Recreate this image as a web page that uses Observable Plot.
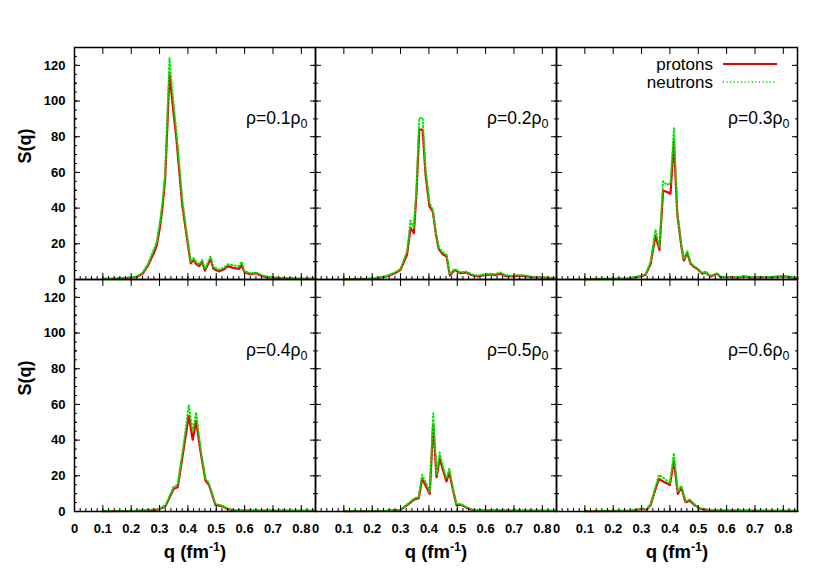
<!DOCTYPE html>
<html><head><meta charset="utf-8">
<script src="https://cdn.jsdelivr.net/npm/d3@7"></script>
<script src="https://cdn.jsdelivr.net/npm/@observablehq/plot@0.6"></script>
<style>body{margin:0;background:#fff}svg{display:block}</style>
</head><body><div id="chart"></div>
<script>
// ---- data ----
const densityLabels = ["ρ=0.1ρ0", "ρ=0.2ρ0", "ρ=0.3ρ0", "ρ=0.4ρ0", "ρ=0.5ρ0", "ρ=0.6ρ0"];
const seriesNames = ["protons", "neutrons"];
const xTicks = [0, 0.1, 0.2, 0.3, 0.4, 0.5, 0.6, 0.7, 0.8];
const yTicks = [0, 20, 40, 60, 80, 100, 120];
const xLabel = "q (fm-1)";
const yLabel = "S(q)";

const q1 = [0.10,0.15,0.20,0.22,0.24,0.26,0.28,0.29,0.30,0.31,0.32,0.335,0.345,0.36,0.38,0.395,0.41,0.42,0.43,0.44,0.45,0.46,0.48,0.49,0.51,0.53,0.54,0.56,0.58,0.59,0.60,0.62,0.64,0.66,0.68,0.72,0.78,0.85];
const p1 = [0.3,0.5,1.0,1.5,3.2,8,15,19,28,40,57,115,100,78,42,25,9,11,8.5,7.5,10,5,11.5,6,4.5,6,7.5,6.5,6,8,4,3,3.5,2,1.2,0.8,0.5,0.4];
const n1 = [0.3,0.6,1.2,1.8,3.8,9,17,21,31,43,60,124,106,82,45,27,10,12,9.5,8.5,11,6,13,7,5.5,7,8.5,8,7.5,10,4.5,3.5,4,2.5,1.5,1,0.6,0.5];

const q2 = [0.10,0.20,0.25,0.28,0.30,0.323,0.335,0.347,0.356,0.366,0.378,0.388,0.402,0.414,0.425,0.435,0.45,0.462,0.474,0.491,0.511,0.53,0.55,0.57,0.60,0.617,0.635,0.652,0.67,0.687,0.71,0.734,0.76,0.805,0.85];
const p2 = [0.2,0.3,1.7,3.5,5.4,14,29,26,48,84,84,59,41,38,25,17,14,13,2.2,5.4,3.5,4,2.5,1.7,2.5,2.8,2.5,3.2,2,1.7,2,2,1.3,1,0.6];
const n2 = [0.2,0.4,2,4,6,16,33,29,51,90.5,90.5,62,43,39,26,18,15,14,3,6,4,4.5,3,2.2,3,3.2,3,4,2.5,2,2.5,2.3,1.6,1.2,0.7];

const q3 = [0.10,0.25,0.296,0.314,0.332,0.349,0.363,0.376,0.39,0.402,0.414,0.426,0.44,0.449,0.461,0.473,0.485,0.496,0.514,0.526,0.543,0.567,0.579,0.614,0.64,0.661,0.69,0.708,0.75,0.802,0.85];
const p3 = [0.2,0.5,1.7,2.6,8.8,24.6,16.6,49.7,49,48,77.6,36.7,19,10.6,15,8.8,7,6,3.2,4,1.7,3.2,1.3,1.3,1,1.7,1,1.3,1.2,1.7,0.8];
const n3 = [0.2,0.6,2,3,10,28,18,55,53,54,84.7,38,20,11.5,16,9.5,7.5,6.5,3.6,4.5,2,3.6,1.6,1.6,1.3,2,1.3,1.6,1.5,2,1];

const q4 = [0.10,0.22,0.297,0.321,0.35,0.364,0.385,0.403,0.417,0.429,0.445,0.462,0.474,0.497,0.52,0.538,0.56,0.63,0.85];
const p4 = [0.2,0.3,1.1,3,12.7,13.6,35,53.6,40.2,50.8,33,17.3,15,3.7,3,1.5,0.6,0.5,0.3];
const n4 = [0.2,0.4,1.4,3.5,14,15,38,59.6,45,55.5,35,18.5,16,4.2,3.4,1.8,0.8,0.6,0.4];

const q5 = [0.10,0.25,0.30,0.329,0.349,0.364,0.376,0.39,0.403,0.415,0.427,0.438,0.45,0.462,0.472,0.485,0.497,0.514,0.535,0.558,0.85];
const p5 = [0.2,0.3,0.9,4.3,6.8,7.4,18.2,14,9.9,49,19.2,29.8,23,16.8,22,12,3.7,3.7,1.9,0.6,0.3];
const n5 = [0.2,0.4,1.1,4.8,7.5,8.2,20.5,16,11,55,21,33,25,18.5,24,13,4.2,4.2,2.2,0.8,0.4];

const q6 = [0.10,0.26,0.302,0.318,0.332,0.346,0.361,0.38,0.40,0.414,0.428,0.44,0.455,0.47,0.486,0.508,0.543,0.85];
const p6 = [0.2,0.3,1.5,1,3.7,11,18.2,16.5,14.9,28.5,9.9,13.6,5.2,6.1,3.7,1.5,0.6,0.3];
const n6 = [0.2,0.4,1.7,1.2,4.2,12,20.5,18.5,16,32.8,11,14.5,5.8,6.7,4.2,1.8,0.8,0.4];

// ---- build tables ----
const qs = [q1,q2,q3,q4,q5,q6], ps = [p1,p2,p3,p4,p5,p6], ns = [n1,n2,n3,n4,n5,n6];
const rows = [];
qs.forEach((qa, i) => qa.forEach((q, j) => {
  const fx = i % 3, fy = Math.floor(i / 3);
  rows.push({fx, fy, q, S: ps[i][j], species: seriesNames[0]});
  rows.push({fx, fy, q, S: ns[i][j], species: seriesNames[1]});
}));
const labelRows = densityLabels.map((t, i) => ({fx: i % 3, fy: Math.floor(i / 3), t}));
const ylabRows = [{fx: 0, fy: 0}, {fx: 0, fy: 1}];
const xlabRows = [{fx: 0, fy: 1}, {fx: 1, fy: 1}, {fx: 2, fy: 1}];
const xMinor = d3.range(0, 43).map(i => +(i * 0.02).toFixed(2));
const yMinor10 = d3.range(0, 14).map(i => i * 10);
const yMinor5 = d3.range(0, 27).map(i => i * 5);

const RED = "#ee0000", GREEN = "#00e600";
const DASH = "1,2.6";
const FONT = "'Liberation Sans', Arial, Helvetica, sans-serif";

const plot = Plot.plot({
  width: 830, height: 581,
  marginLeft: 74, marginRight: 33, marginTop: 46, marginBottom: 70,
  style: {fontFamily: FONT, background: "white", color: "black", overflow: "visible"},
  x: {domain: [0, 0.85]},
  y: {domain: [0, 130]},
  fx: {domain: [0, 1, 2], padding: 0, axis: null},
  fy: {domain: [0, 1], padding: 0, axis: null},
  marks: [
    Plot.line(rows.filter(d => d.species === "protons"), {x: "q", y: "S", fx: "fx", fy: "fy", stroke: RED, strokeWidth: 2.2}),
    Plot.line(rows.filter(d => d.species === "neutrons"), {x: "q", y: "S", fx: "fx", fy: "fy", stroke: GREEN, strokeWidth: 2, strokeDasharray: DASH}),
    // inward ticks
    Plot.axisX(xTicks, {anchor: "bottom", tickSize: -6, fill: "none", facetAnchor: null, label: null}),
    Plot.axisX(xTicks, {anchor: "top", tickSize: -6, fill: "none", facetAnchor: null, label: null}),
    Plot.axisX(xMinor, {anchor: "bottom", tickSize: -3, fill: "none", facetAnchor: null, label: null}),
    Plot.axisY(yTicks, {anchor: "left", tickSize: -6, fill: "none", facetAnchor: null, label: null}),
    Plot.axisY(yTicks, {anchor: "right", tickSize: -6, fill: "none", facetAnchor: null, label: null}),
    Plot.axisY(yMinor10, {anchor: "left", tickSize: -3, fill: "none", facetAnchor: null, label: null}),
    Plot.axisY(yMinor10, {anchor: "right", tickSize: -3, fill: "none", facetAnchor: null, label: null}),
    Plot.axisY(yMinor5, {anchor: "left", tickSize: -3, fill: "none", label: null}),
    // tick labels
    Plot.axisX(xTicks, {anchor: "bottom", tickSize: 0, tickPadding: 12, fontWeight: "bold", fontSize: 13, label: null,
      tickFormat: d => d === 0 ? "0" : d.toFixed(1)}),
    Plot.axisY(yTicks, {anchor: "left", tickSize: 0, tickPadding: 9, fontWeight: "bold", fontSize: 13, label: null}),
    Plot.frame({stroke: "black", strokeWidth: 1.5}),
    // panel labels
    Plot.text(labelRows, {fx: "fx", fy: "fy", text: "t", frameAnchor: "top-right", textAnchor: "end", lineAnchor: "middle", dx: -8, dy: 71, fontSize: 17.5, className: "plabel"}),
    Plot.text(ylabRows, {fx: "fx", fy: "fy", text: () => yLabel, frameAnchor: "left", rotate: -90, dx: -49, fontSize: 18, fontWeight: "bold", lineAnchor: "middle"}),
    Plot.text(xlabRows, {fx: "fx", fy: "fy", text: () => xLabel, frameAnchor: "bottom", dy: 41, fontSize: 18.5, fontWeight: "bold", lineAnchor: "middle", className: "xlab"})
  ]
});
document.getElementById("chart").appendChild(plot);
const svg = d3.select(plot);

// subscripts / superscripts
svg.selectAll(".plabel text").each(function () {
  const t = this.textContent;
  const s = d3.select(this).text(t.slice(0, -1));
  s.append("tspan").attr("dy", 4).attr("font-size", 12.5).text(t.slice(-1));
});
svg.selectAll(".xlab text").each(function () {
  const s = d3.select(this).text("q (fm");
  s.append("tspan").attr("dy", -7).attr("font-size", 12.5).text("-1");
  s.append("tspan").attr("dy", 7).text(")");
});

// legend
const lg = svg.append("g").attr("font-family", FONT).attr("font-size", 17);
seriesNames.forEach((name, i) => {
  const y = 64 + i * 18;
  lg.append("text").attr("x", 713).attr("y", y).attr("dy", "0.35em").attr("text-anchor", "end").attr("fill", "black").text(name);
  lg.append("line").attr("x1", 723).attr("x2", 777).attr("y1", y).attr("y2", y)
    .attr("stroke", i === 0 ? RED : GREEN).attr("stroke-width", 2)
    .attr("stroke-dasharray", i === 0 ? null : DASH);
});
</script>
</body></html>
